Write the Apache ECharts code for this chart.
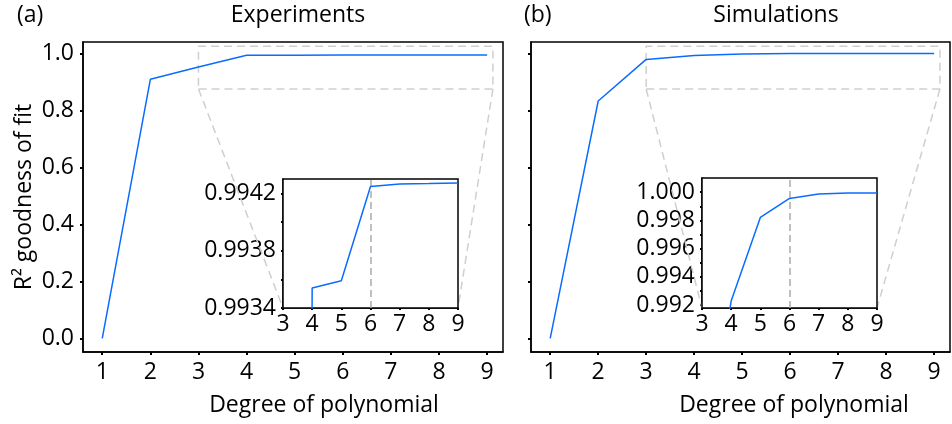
<!DOCTYPE html>
<html>
<head>
<meta charset="utf-8">
<script src="https://cdn.jsdelivr.net/npm/echarts@6/dist/echarts.min.js"></script>
<style>
  html, body { margin: 0; padding: 0; background: #fff; }
  #chart { width: 952px; height: 424px; }
</style>
</head>
<body>
<div id="chart"></div>
<script>
// data
const degrees = [1, 2, 3, 4, 5, 6, 7, 8, 9];
const expR2 = [0.0, 0.909, 0.952, 0.99354, 0.99359, 0.994247, 0.994265, 0.994268, 0.994272];
const simR2 = [0.0, 0.833, 0.979, 0.9923, 0.99821, 0.99955, 0.99986, 0.99993, 0.99993];

const mainTicks = [0, 0.2, 0.4, 0.6, 0.8, 1.0];
const expInsetTicks = [0.9934, 0.9936, 0.9938, 0.9940, 0.9942];
const expInsetLabels = [0.9934, 0.9938, 0.9942];
const simInsetTicks = [0.992, 0.993, 0.994, 0.995, 0.996, 0.997, 0.998, 0.999, 1.0];
const simInsetLabels = [0.992, 0.994, 0.996, 0.998, 1.0];

// zoom box in the main panels and the marked degree in the insets
const zoomBox = { x0: 3, x1: 9.12, y0: 0.875, y1: 1.025 };
const markedDegree = 6;

const FONT = '"Open Sans", sans-serif';
const FS = 23;
const BLUE = '#0a6cff';

const chart = echarts.init(document.getElementById('chart'));

const pairs = arr => degrees.map((d, i) => [d, arr[i]]);

// 主图坐标轴
const mainX = (gridIndex) => ({
  type: 'value', gridIndex, min: 0.6, max: 9.33, interval: 1,
  axisLine: { show: true, onZero: false, lineStyle: { color: '#000', width: 1.5 } },
  axisTick: { show: true, customValues: degrees, length: 3, lineStyle: { color: '#000', width: 2 } },
  axisLabel: { customValues: degrees, color: '#000', fontSize: FS, fontFamily: FONT, margin: 9 },
  splitLine: { show: false }
});
const mainY = (gridIndex, labels) => ({
  type: 'value', gridIndex, min: -0.048, max: 1.04,
  axisLine: { show: true, onZero: false, lineStyle: { color: '#000', width: 1.5 } },
  axisTick: { show: true, customValues: mainTicks, length: 3, lineStyle: { color: '#000', width: 2 } },
  axisLabel: {
    show: labels, customValues: mainTicks, color: '#000', fontSize: FS, fontFamily: FONT, margin: 9,
    formatter: v => v.toFixed(1)
  },
  splitLine: { show: false }
});
// 小图坐标轴
const insetX = (gridIndex) => ({
  type: 'value', gridIndex, min: 3, max: 9, interval: 1,
  axisLine: { show: true, onZero: false, lineStyle: { color: '#000', width: 1.5 } },
  axisTick: { show: true, length: 2, lineStyle: { color: '#000', width: 2 } },
  axisLabel: { color: '#000', fontSize: FS, fontFamily: FONT, margin: 5 },
  splitLine: { show: false }
});
const insetY = (gridIndex, min, max, ticks, labels, digits) => ({
  type: 'value', gridIndex, min, max,
  axisLine: { show: true, onZero: false, lineStyle: { color: '#000', width: 1.5 } },
  axisTick: { show: true, customValues: ticks, length: 2, lineStyle: { color: '#000', width: 2 } },
  axisLabel: {
    customValues: labels, color: '#000', fontSize: FS, fontFamily: FONT, margin: 7,
    formatter: v => v.toFixed(digits)
  },
  splitLine: { show: false }
});

const mainSeries = (idx, data) => ({
  type: 'line', xAxisIndex: idx, yAxisIndex: idx, data: pairs(data),
  showSymbol: false, silent: true,
  lineStyle: { color: BLUE, width: 1.5 },
  markArea: {
    silent: true,
    itemStyle: { color: 'rgba(0,0,0,0)', borderColor: '#cfcfcf', borderWidth: 1.5, borderType: [8, 5] },
    data: [[{ xAxis: zoomBox.x0, yAxis: zoomBox.y0 }, { xAxis: zoomBox.x1, yAxis: zoomBox.y1 }]]
  }
});
const insetSeries = (idx, data) => ({
  type: 'line', xAxisIndex: idx, yAxisIndex: idx, data: pairs(data),
  showSymbol: false, silent: true, clip: true, z: 5,
  lineStyle: { color: BLUE, width: 1.5 },
  markLine: {
    silent: true, symbol: 'none', label: { show: false },
    lineStyle: { color: '#aaa', width: 1.5, type: [7, 4] },
    data: [{ xAxis: markedDegree }]
  }
});

const textTitle = (text, left, top, align) => ({
  text, left, top, textAlign: align,
  textStyle: { color: '#000', fontSize: FS, fontWeight: 'normal', fontFamily: FONT }
});

chart.setOption({
  animation: false,
  title: [
    textTitle('(a)', 12, -1, 'left'),
    textTitle('Experiments', 293, -1, 'center'),
    textTitle('(b)', 519, -1, 'left'),
    textTitle('Simulations', 771, -1, 'center'),
    textTitle('Degree of polynomial', 319, 389, 'center'),
    textTitle('Degree of polynomial', 789, 389, 'center')
  ],
  grid: [
    { left: 83, top: 42, width: 420, height: 310, show: true, borderColor: '#000', borderWidth: 1.5 },
    { left: 531, top: 42, width: 419, height: 310, show: true, borderColor: '#000', borderWidth: 1.5 },
    { left: 283, top: 179, width: 175, height: 129, show: true, borderColor: '#000', borderWidth: 1.5, backgroundColor: '#fff', z: 3 },
    { left: 702, top: 178, width: 175, height: 130, show: true, borderColor: '#000', borderWidth: 1.5, backgroundColor: '#fff', z: 3 }
  ],
  xAxis: [mainX(0), mainX(1), insetX(2), insetX(3)],
  yAxis: [
    Object.assign(mainY(0, true), {
      name: 'R² goodness of fit', nameLocation: 'middle', nameGap: 47,
      nameTextStyle: { color: '#000', fontSize: FS, fontFamily: FONT }
    }),
    mainY(1, false),
    insetY(2, 0.9934, 0.9943, expInsetTicks, expInsetLabels, 4),
    insetY(3, 0.9918, 1.001, simInsetTicks, simInsetLabels, 3)
  ],
  series: [
    mainSeries(0, expR2),
    mainSeries(1, simR2),
    insetSeries(2, expR2),
    insetSeries(3, simR2)
  ]
});

// 连接线: 主图框的下角 -> 小图下角
const connectors = [];
[[0, 2], [1, 3]].forEach(([m, s]) => {
  const insetMin = chart.getModel().getComponent('yAxis', s).axis.scale.getExtent()[0];
  const ends = [
    [[zoomBox.x0, zoomBox.y0], [3, insetMin]],
    [[zoomBox.x1, zoomBox.y0], [9, insetMin]]
  ];
  ends.forEach(([a, b]) => {
    const p = chart.convertToPixel({ gridIndex: m }, a);
    const q = chart.convertToPixel({ gridIndex: s }, b);
    connectors.push({
      type: 'line', z: 1, silent: true,
      shape: { x1: p[0], y1: p[1], x2: q[0], y2: q[1] },
      style: { stroke: '#cfcfcf', lineWidth: 1.5, lineDash: [8, 5] }
    });
  });
});
chart.setOption({ graphic: connectors });
</script>
</body>
</html>
